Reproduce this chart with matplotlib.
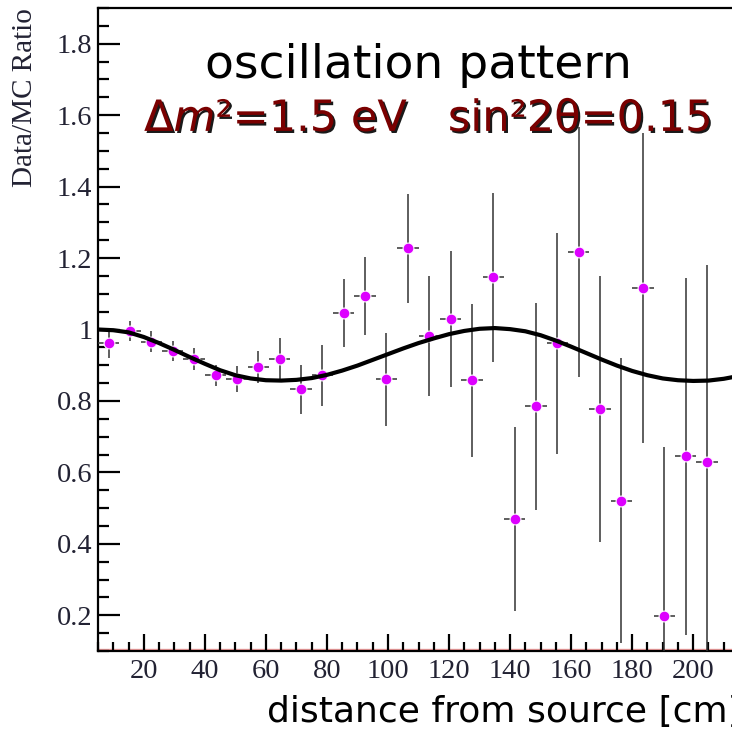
import matplotlib
matplotlib.use('Agg')
import matplotlib.pyplot as plt
import matplotlib.patheffects as pe
from matplotlib.ticker import MultipleLocator, FuncFormatter

plt.rcParams['mathtext.fontset'] = 'dejavusans'

# measured ratio per 7 cm bin
bin_centers = [8.5, 15.5, 22.5, 29.5, 36.5, 43.5, 50.5, 57.5, 64.5, 71.5,
               78.5, 85.5, 92.5, 99.5, 106.5, 113.5, 120.5, 127.5, 134.5, 141.5,
               148.5, 155.5, 162.5, 169.5, 176.5, 183.5, 190.5, 197.5, 204.5]
ratio = [0.961, 0.995, 0.966, 0.940, 0.917, 0.872, 0.861, 0.895, 0.917, 0.833,
         0.872, 1.046, 1.094, 0.861, 1.227, 0.983, 1.030, 0.858, 1.146, 0.470,
         0.785, 0.961, 1.217, 0.778, 0.521, 1.116, 0.197, 0.645, 0.630]
ratio_err = [0.040, 0.028, 0.029, 0.029, 0.030, 0.030, 0.036, 0.046, 0.059, 0.069,
             0.085, 0.094, 0.110, 0.130, 0.153, 0.168, 0.190, 0.214, 0.236, 0.258,
             0.290, 0.310, 0.350, 0.373, 0.400, 0.433, 0.474, 0.500, 0.550]
bin_half_width = [3.5] * len(bin_centers)

# oscillation curve
curve_x = [5, 10, 15, 20, 25, 30, 35, 40, 45, 50, 55, 60, 65, 70, 75, 80, 85,
           90, 95, 100, 105, 110, 115, 120, 125, 130, 135, 140, 145, 150, 155,
           160, 165, 170, 175, 180, 185, 190, 195, 200, 205, 210, 215]
curve_y = [1.000, 0.998, 0.992, 0.979, 0.962, 0.943, 0.923, 0.904, 0.886, 0.872,
           0.863, 0.858, 0.857, 0.859, 0.864, 0.873, 0.885, 0.899, 0.915, 0.931,
           0.947, 0.962, 0.975, 0.987, 0.996, 1.002, 1.004, 1.001, 0.995, 0.984,
           0.969, 0.952, 0.934, 0.916, 0.899, 0.884, 0.872, 0.863, 0.858, 0.856,
           0.857, 0.862, 0.870]

W, H = 732, 729
fig = plt.figure(figsize=(W / 100, H / 100), dpi=100)
ax = fig.add_axes([98 / W, 78 / H, (739 - 98) / W, (721 - 78) / H])

ax.axhline(0.1056, color='#f4a0a0', lw=1, zorder=1)
ax.errorbar(bin_centers, ratio, xerr=bin_half_width, yerr=ratio_err, fmt='o',
            color='#dd00ff', ecolor='#333333', elinewidth=1.1, capsize=0,
            markersize=7.8, mec='white', mew=0.8, zorder=3)
ax.plot(curve_x, curve_y, color='black', lw=3, zorder=4)

ax.set_xlim(5, 215)
ax.set_ylim(0.1, 1.9)
ax.xaxis.set_major_locator(MultipleLocator(20))
ax.xaxis.set_minor_locator(MultipleLocator(5))
ax.yaxis.set_major_locator(MultipleLocator(0.2))
ax.yaxis.set_minor_locator(MultipleLocator(0.05))
ax.yaxis.set_major_formatter(FuncFormatter(lambda v, p: f'{v:g}'))

for s in ax.spines.values():
    s.set_linewidth(1.6)
ax.tick_params(axis='y', which='major', direction='in', length=16, width=1.6, pad=4)
ax.tick_params(axis='y', which='minor', direction='in', length=8, width=1.6)
ax.tick_params(axis='x', which='major', direction='in', length=12, width=1.6, pad=6)
ax.tick_params(axis='x', which='minor', direction='in', length=6.5, width=1.6)
for lab in ax.get_xticklabels() + ax.get_yticklabels():
    lab.set_family('Liberation Serif')
    lab.set_fontsize(20.5)
    lab.set_color('#222233')

fig.text(25 / W, 721 / H, 'Data/MC Ratio', rotation=90, ha='center', va='top',
         family='Liberation Serif', fontsize=21, color='#222233')

fig.text(418 / W, 1 - 78 / H, 'oscillation pattern', fontsize=34,
         ha='center', va='baseline')
fig.text(427 / W, 1 - 131 / H, 'Δ$m$²=1.5 eV   sin²2θ=0.15', fontsize=31,
         color='#7a0000', ha='center', va='baseline',
         path_effects=[pe.SimplePatchShadow(offset=(1.5, -1.5), shadow_rgbFace='black', alpha=0.9),
                       pe.Normal()])

fig.text(267 / W, 1 - 722 / H, 'distance from source [cm]', fontsize=26,
         ha='left', va='baseline')

fig.savefig('out.png', dpi=100)
